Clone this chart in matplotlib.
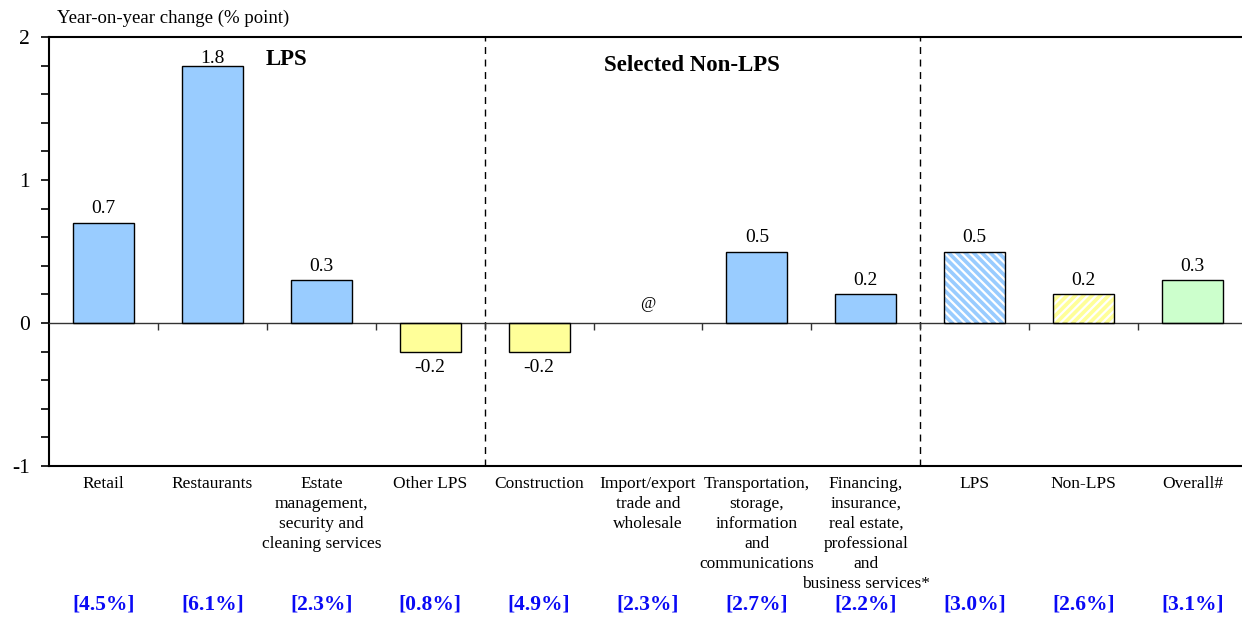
import matplotlib
matplotlib.use("Agg")
import matplotlib.pyplot as plt
from matplotlib.ticker import MultipleLocator, FixedLocator, NullFormatter
from matplotlib.transforms import offset_copy

plt.rcParams["font.family"] = ["Liberation Serif", "DejaVu Serif"]
plt.rcParams["hatch.linewidth"] = 1.6

# ---- data ----
categories = [
    "Retail",
    "Restaurants",
    "Estate\nmanagement,\nsecurity and\ncleaning services",
    "Other LPS",
    "Construction",
    "Import/export\ntrade and\nwholesale",
    "Transportation,\nstorage,\ninformation\nand\ncommunications",
    "Financing,\ninsurance,\nreal estate,\nprofessional\nand\nbusiness services*",
    "LPS",
    "Non-LPS",
    "Overall#",
]
changes = [0.7, 1.8, 0.3, -0.2, -0.2, 0.0, 0.5, 0.2, 0.5, 0.2, 0.3]
value_notes = [None, None, None, None, None, "@", None, None, None, None, None]
rates = [4.5, 6.1, 2.3, 0.8, 4.9, 2.3, 2.7, 2.2, 3.0, 2.6, 3.1]
groups = ["LPS", "Selected Non-LPS"]

BLUE = "#99CCFF"
YELLOW = "#FFFF99"
GREEN = "#CCFFCC"
face = [BLUE, BLUE, BLUE, YELLOW, YELLOW, YELLOW, BLUE, BLUE, BLUE, YELLOW, GREEN]
hatches = [None] * 8 + ["\\\\\\\\", "////", None]

Y_MIN, Y_MAX = -1, 2

fig = plt.figure(figsize=(12.42, 6.17), dpi=100)
ax = fig.add_axes([49 / 1242, 1 - 466 / 617, 1198 / 1242, 429 / 617])

x = list(range(len(categories)))
width = 0.56

ax.bar(x, changes, width=width, color=face, edgecolor="none", zorder=2)
for xi, v, h in zip(x, changes, hatches):
    if h:
        ax.bar(xi, v, width=width, color="none", edgecolor="white",
               linewidth=0, hatch=h, zorder=3)
for xi, v in zip(x, changes):
    if v != 0:
        ax.bar(xi, v, width=width, color="none", edgecolor="black",
               linewidth=1.0, zorder=4)

# value labels (pulled closer to the bar when it nearly reaches the top)
for xi, v, note in zip(x, changes, value_notes):
    if note:
        ax.annotate(note, (xi, v), xytext=(0, 8), textcoords="offset points",
                    ha="center", va="bottom", fontsize=12)
    elif v >= 0:
        dy = 4 if Y_MAX - v > 0.3 else -1
        ax.annotate(f"{v:.1f}", (xi, v), xytext=(0, dy), textcoords="offset points",
                    ha="center", va="bottom", fontsize=14)
    else:
        ax.annotate(f"{v:.1f}", (xi, v), xytext=(0, -5), textcoords="offset points",
                    ha="center", va="top", fontsize=14)

ax.set_xlim(-0.5, len(categories) - 0.5)
ax.set_ylim(Y_MIN, Y_MAX)

# section separators
for sep in (3.5, 7.5):
    ax.axvline(sep, color="black", linewidth=1.0, linestyle=(0, (5, 4)), zorder=1)

# group headings
ax.text(1.68, 1.84, groups[0], ha="center", va="center", fontsize=16.5, fontweight="bold")
ax.text(5.40, 1.80, groups[1], ha="center", va="center", fontsize=16.5, fontweight="bold")

# spines: x axis sits on zero with ticks at category boundaries
ax.spines["right"].set_visible(False)
ax.spines["bottom"].set_position(("data", 0))
ax.spines["bottom"].set_linewidth(1.0)
ax.spines["bottom"].set_color("#333333")
ax.spines["left"].set_linewidth(1.5)
ax.spines["top"].set_linewidth(1.5)
ax.xaxis.set_major_locator(FixedLocator([i + 0.5 for i in range(len(categories) - 1)]))
ax.xaxis.set_major_formatter(NullFormatter())
ax.tick_params(axis="x", direction="out", length=5, width=1.0, color="#333333")

ax.yaxis.set_major_locator(MultipleLocator(1))
ax.yaxis.set_minor_locator(MultipleLocator(0.2))
ax.tick_params(axis="y", which="both", direction="out", length=6, width=1.2,
               labelsize=15.5, pad=8)
ax.set_yticks([-1, 0, 1, 2])
ax.set_yticklabels(["-1", "0", "1", "2"])

# bottom frame line
sec = ax.secondary_xaxis("bottom")
sec.spines["bottom"].set_linewidth(1.5)
sec.set_xticks([])

# category names, one text per line (20 px pitch below the frame)
xtrans = ax.get_xaxis_transform()
for xi, name in zip(x, categories):
    for k, line in enumerate(name.split("\n")):
        tr = offset_copy(xtrans, fig=fig, x=0, y=-(18 + 20 * k), units="dots")
        ax.text(xi, 0, line, transform=tr, ha="center", va="center",
                fontsize=12.5, clip_on=False)

# share-of-employment labels
for xi, r in zip(x, rates):
    tr = offset_copy(xtrans, fig=fig, x=0, y=-(605 - 466), units="dots")
    ax.text(xi, 0, f"[{r:.1f}%]", transform=tr,
            ha="center", va="center", fontsize=15.5, fontweight="bold",
            color="#0A0AF5", clip_on=False)

fig.text(57 / 1242, 1 - 18 / 617, "Year-on-year change (% point)",
         ha="left", va="center", fontsize=13.5)

fig.savefig("out.png", dpi=100)
